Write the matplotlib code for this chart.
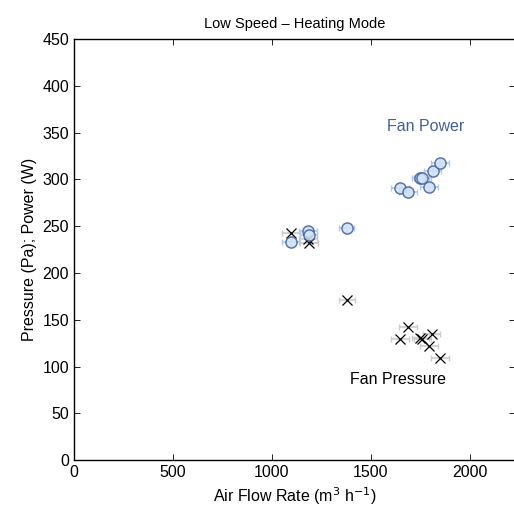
import numpy as np
import matplotlib.pyplot as plt

plt.rcParams['font.family'] = ['Liberation Sans', 'DejaVu Sans']

# Fan power (circles)
power_flow = [1095, 1183, 1186, 1378, 1647, 1690, 1752, 1762, 1796, 1813, 1852]
power_w = [233, 245, 241, 248, 291, 287, 301, 301, 292, 309, 318]
power_flow_err = [45, 45, 45, 40, 45, 45, 45, 45, 45, 45, 45]
power_w_err = [4, 4, 4, 4, 4, 4, 4, 4, 4, 4, 4]

# Fan pressure (crosses)
press_flow = [1097, 1183, 1188, 1381, 1647, 1690, 1752, 1762, 1808, 1796, 1850]
press_pa = [243, 236, 232, 171, 129, 142, 131, 129, 135, 122, 109]
press_flow_err = [45, 45, 45, 40, 45, 45, 45, 45, 45, 45, 45]

fig = plt.figure(figsize=(5.14, 5.2), dpi=100)
ax = fig.add_axes([0.144, 0.115, 0.858, 0.81])

ax.errorbar(press_flow, press_pa, xerr=press_flow_err, fmt='none',
            ecolor='#cccccc', elinewidth=1.2, capsize=2.5, zorder=2)
ax.plot(press_flow, press_pa, 'x', color='black', markersize=7,
        markeredgewidth=0.9, zorder=3)

ax.errorbar(power_flow, power_w, xerr=power_flow_err, yerr=power_w_err, fmt='none',
            ecolor='#aecbef', elinewidth=1.2, capsize=2.5, zorder=2)
ax.plot(power_flow, power_w, 'o', markersize=8, markerfacecolor='#d2e3f5',
        markeredgecolor='#44609a', markeredgewidth=1.1, alpha=0.85, zorder=4)

ax.text(1777, 357, 'Fan Power', color='#44609a', fontsize=11.5,
        ha='center', va='center')
ax.text(1640, 86, 'Fan Pressure', color='black', fontsize=11.5,
        ha='center', va='center')

ax.set_xlim(0, 2230)
ax.set_ylim(0, 450)
ax.set_xticks([0, 500, 1000, 1500, 2000])
ax.set_yticks(np.arange(0, 451, 50))
ax.tick_params(direction='in', top=True, right=True, length=4,
               labelsize=11.5, width=0.6)
for s in ax.spines.values():
    s.set_linewidth(1.0)

ax.set_title('Low Speed \u2013 Heating Mode', fontsize=10.5, pad=8)
ax.set_xlabel('Air Flow Rate (m$^3$ h$^{-1}$)', fontsize=11.5)
ax.set_ylabel('Pressure (Pa); Power (W)', fontsize=11.5)

fig.savefig('out.png', dpi=100)
